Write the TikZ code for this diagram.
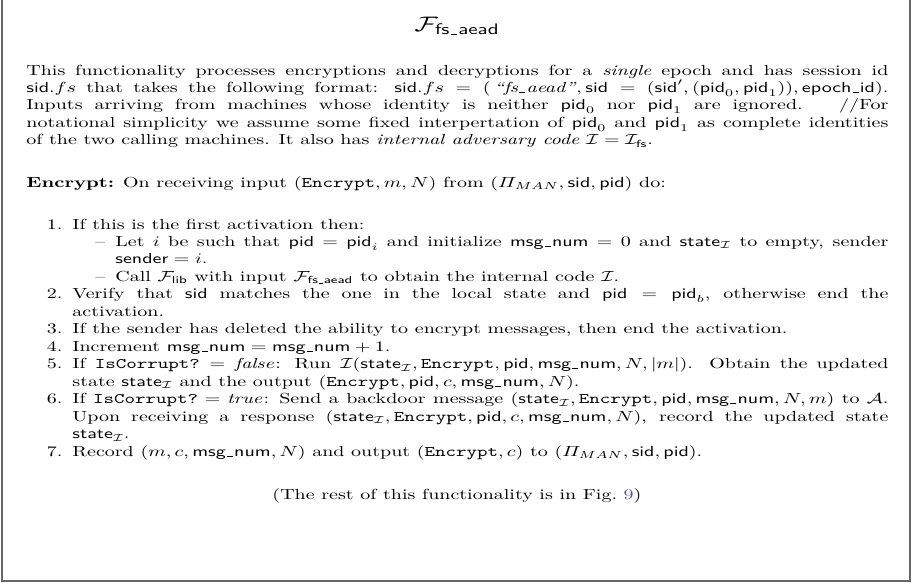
\documentclass[tikz,border=0pt]{standalone}
\usepackage{amsmath,amssymb}
\usepackage{graphicx}
\usepackage{xcolor}
\definecolor{framegray}{gray}{0.4}
\definecolor{reflink}{rgb}{0.33,0.33,0.66}

% low bar on the baseline, as in the classic CM underscore
\newcommand{\lowbar}{\leavevmode\kern.06em\vbox{\hrule width.3em}\kern.06em}
\newcommand{\fsv}[1]{\textsf{#1}}
\newcommand{\ttv}[1]{\texttt{#1}}
\newcommand{\calI}{\mathcal{I}}
\newcommand{\stI}{\fsv{state}_{\calI}}
\newcommand{\msgn}{\fsv{msg\lowbar num}}
\newcommand{\PiMAN}{\varPi_{MAN}}
\newcommand{\bodyfont}{\fontsize{10}{12}\selectfont}
% text boxes are set at 10pt and flattened a little
\newcommand{\hsq}{1.0}
\newcommand{\vsq}{0.729}
\newcommand{\sq}[1]{\scalebox{\hsq}[\vsq]{#1}}
\newlength{\bodywidth}
\setlength{\bodywidth}{431pt}

% compact lists: no vertical gaps between items
\setlength{\leftmargini}{23pt}
\setlength{\leftmarginii}{21.5pt}
\makeatletter
\def\@listi{\leftmargin\leftmargini \labelwidth\leftmargini
  \advance\labelwidth-\labelsep \topsep\z@ \parsep\z@ \itemsep\z@ \partopsep\z@}
\let\@listI\@listi
\def\@listii{\leftmargin\leftmarginii \labelwidth\leftmarginii
  \advance\labelwidth-\labelsep \topsep\z@ \parsep\z@ \itemsep\z@ \partopsep\z@}
\makeatother
\renewcommand{\labelitemi}{\textendash}

\tikzset{
  textbox/.style={inner sep=0pt, anchor=base west},
  frameline/.style={draw=framegray, line width=0.8pt}
}

\begin{document}
\begin{tikzpicture}[x=0.5pt,y=0.5pt]
\useasboundingbox (0,0) rectangle (914,-584);

% open-topped frame
\coordinate (tl) at (2,4);
\coordinate (bl) at (2,-581);
\coordinate (br) at (910,-581);
\coordinate (tr) at (910,4);
\draw[frameline] (tl) -- (bl) -- (br) -- (tr);

\node[inner sep=0pt, anchor=base] (title) at (457,-31)
  {\sq{\fontsize{15}{18}\selectfont$\mathcal{F}_{\textsf{fs\lowbar aead}}$}};

\node[textbox] (intro) at (26,-75) {\sq{\begin{minipage}[t]{\bodywidth}\bodyfont
This functionality processes encryptions and decryptions for a \emph{single} epoch and has session id\linebreak
$\fsv{sid}.fs$ that takes the following format: $\fsv{sid}.fs = (\,\text{\emph{``fs\lowbar aead''}}, \fsv{sid} = (\fsv{sid}', (\fsv{pid}_0, \fsv{pid}_1)), \fsv{epoch\lowbar id})$.\linebreak
Inputs arriving from machines whose identity is neither $\fsv{pid}_0$ nor $\fsv{pid}_1$ are ignored. \ //For\linebreak
notational simplicity we assume some fixed interpertation of $\fsv{pid}_0$ and $\fsv{pid}_1$ as complete identities\linebreak
of the two calling machines. It also has \emph{internal adversary code} $\calI = \calI_{\fsv{fs}}$.
\end{minipage}}};

\node[textbox] (enc) at (26,-187) {\sq{\bodyfont
\textbf{Encrypt:} On receiving input $(\ttv{Encrypt}, m, N)$ from $(\PiMAN, \fsv{sid}, \fsv{pid})$ do:}};

\node[textbox] (steps) at (26,-229) {\sq{\begin{minipage}[t]{\bodywidth}\bodyfont
\begin{enumerate}
\item If this is the first activation then:
  \begin{itemize}
  \item Let $i$ be such that $\fsv{pid} = \fsv{pid}_i$ and initialize $\msgn = 0$ and $\stI$ to empty, sender\linebreak $\fsv{sender} = i$.
  \item Call $\mathcal{F}_{\fsv{lib}}$ with input $\mathcal{F}_{\fsv{fs\lowbar aead}}$ to obtain the internal code $\calI$.
  \end{itemize}
\item Verify that $\fsv{sid}$ matches the one in the local state and $\fsv{pid} = \fsv{pid}_b$, otherwise end the\linebreak activation.
\item If the sender has deleted the ability to encrypt messages, then end the activation.
\item Increment $\msgn = \msgn + 1$.
\item If $\ttv{IsCorrupt?} = \mathit{false}$: Run $\calI(\stI, \ttv{Encrypt}, \fsv{pid}, \msgn, N, |m|)$. Obtain the updated\linebreak state $\stI$ and the output $(\ttv{Encrypt}, \fsv{pid}, c, \msgn, N)$.
\item If $\ttv{IsCorrupt?} = \mathit{true}$: Send a backdoor message $(\stI, \ttv{Encrypt}, \fsv{pid}, \msgn, N, m)$ to $\mathcal{A}$.\linebreak
Upon receiving a response $(\stI, \ttv{Encrypt}, \fsv{pid}, c, \msgn, N)$, record the updated state\linebreak $\stI$.
\item Record $(m, c, \msgn, N)$ and output $(\ttv{Encrypt}, c)$ to $(\PiMAN, \fsv{sid}, \fsv{pid})$.
\end{enumerate}
\end{minipage}}};

\node[inner sep=0pt, anchor=base] (rest) at (457,-499)
  {\sq{\bodyfont (The rest of this functionality is in Fig.~\textcolor{reflink}{9})}};
\end{tikzpicture}
\end{document}
